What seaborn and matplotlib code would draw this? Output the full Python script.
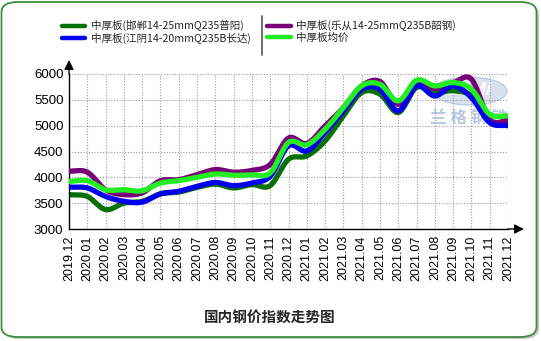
import numpy as np
import pandas as pd
import matplotlib
matplotlib.use("Agg")
import matplotlib.pyplot as plt
import seaborn as sns
from matplotlib.patches import FancyBboxPatch, Ellipse
from matplotlib.lines import Line2D

months = ["2019.12", "2020.01", "2020.02", "2020.03", "2020.04", "2020.05", "2020.06",
          "2020.07", "2020.08", "2020.09", "2020.10", "2020.11", "2020.12", "2021.01",
          "2021.02", "2021.03", "2021.04", "2021.05", "2021.06", "2021.07", "2021.08",
          "2021.09", "2021.10", "2021.11", "2021.12"]

handan = [3665, 3630, 3375, 3500, 3535, 3680, 3715, 3805, 3870, 3795, 3860, 3840,
          4350, 4415, 4705, 5190, 5640, 5610, 5255, 5740, 5640, 5675, 5575, 5090, 5060]
jiangyin = [3810, 3795, 3630, 3535, 3520, 3680, 3730, 3825, 3900, 3840, 3890, 4020,
            4610, 4510, 4870, 5285, 5705, 5705, 5285, 5770, 5575, 5770, 5545, 5060, 5000]
lecong = [4120, 4100, 3760, 3665, 3700, 3935, 3955, 4050, 4150, 4100, 4135, 4250,
          4760, 4655, 4995, 5350, 5770, 5855, 5415, 5830, 5720, 5830, 5900, 5120, 5100]
average = [3920, 3935, 3760, 3760, 3740, 3890, 3935, 4000, 4065, 4040, 4050, 4085,
           4675, 4630, 4930, 5350, 5770, 5800, 5480, 5880, 5770, 5835, 5705, 5220, 5190]

series_names = ["中厚板(邯郸14-25mmQ235普阳)", "中厚板(江阴14-20mmQ235B长达)",
                "中厚板(乐从14-25mmQ235B韶钢)", "中厚板均价"]
series_vals = [handan, jiangyin, lecong, average]
colors = ["#087008", "#0000ee", "#780078", "#22ee22"]
draw_order = [0, 2, 1, 3]

cjk = ["Noto Sans CJK SC", "DejaVu Sans"]


def smooth(y, n=20):
    y = np.asarray(y, float)
    p = np.concatenate([[2 * y[0] - y[1]], y, [2 * y[-1] - y[-2]]])
    xs, ys = [], []
    for i in range(len(y) - 1):
        p0, p1, p2, p3 = p[i], p[i + 1], p[i + 2], p[i + 3]
        t = np.linspace(0, 1, n, endpoint=False)
        v = 0.5 * ((2 * p1) + (-p0 + p2) * t + (2 * p0 - 5 * p1 + 4 * p2 - p3) * t ** 2
                   + (-p0 + 3 * p1 - 3 * p2 + p3) * t ** 3)
        xs.append(i + t)
        ys.append(v)
    xs.append([len(y) - 1])
    ys.append([y[-1]])
    return np.concatenate(xs), np.concatenate(ys)


sns.set_style("white")
plt.rcParams["font.family"] = ["Liberation Sans", "DejaVu Sans"]

W, H = 541, 341
fig = plt.figure(figsize=(W / 100, H / 100), dpi=100)
fig.patch.set_facecolor("white")

# rounded frame
shadow = FancyBboxPatch((4 / W, 2 / H), (W - 6) / W, (H - 6) / H,
                        boxstyle="round,pad=0,rounding_size=0.03",
                        transform=fig.transFigure, facecolor="#c8c8c8", edgecolor="none", zorder=-10)
frame = FancyBboxPatch((1.5 / W, 4 / H), (W - 6) / W, (H - 6) / H,
                       boxstyle="round,pad=0,rounding_size=0.03",
                       transform=fig.transFigure, facecolor="white", edgecolor="#3f8f3f",
                       linewidth=1.3, zorder=-9)
fig.patches.extend([shadow, frame])

L, R, T, B = 69, 508, 74, 229
ax = fig.add_axes([L / W, 1 - B / H, (R - L) / W, (B - T) / H])
ax.set_facecolor("none")

# watermark
ax.add_patch(Ellipse((21.9, 5670), 4.1, 540, facecolor="#c9d5e8", edgecolor="#b0c0da",
                     alpha=0.7, zorder=0.5, clip_on=False))
ax.text(21.9, 5680, "LGMi", color="white", fontsize=13, fontweight="bold", style="italic",
        ha="center", va="center", alpha=0.9, zorder=0.6)
ax.text(21.85, 5150, "兰 格 钢 铁", family=cjk, color="#a9bcd8", fontsize=12, fontweight="bold",
        ha="center", va="center", alpha=0.8, zorder=0.6)

for k in draw_order:
    xs, ys = smooth(series_vals[k])
    df = pd.DataFrame({"x": xs, "y": ys})
    sns.lineplot(data=df, x="x", y="y", ax=ax, color=colors[k], linewidth=3.8,
                 sort=False, estimator=None, zorder=2 + draw_order.index(k))

ax.set_xlim(0, len(months) - 1)
ax.set_ylim(3000, 6000)
ax.set_xticks(range(len(months)))
ax.set_xticklabels(months, rotation=90, fontsize=9)
ax.set_yticks([3000, 3500, 4000, 4500, 5000, 5500, 6000])
ax.set_yticklabels(["3000", "3500", "4000", "4500", "5000", "5500", "6000"], fontsize=9.5)
ax.set_xlabel("")
ax.set_ylabel("")
ax.grid(True, linestyle=(0, (1, 1.5)), color="#9a9a9a", linewidth=0.8)
ax.set_axisbelow(True)
for s in ["top", "right"]:
    ax.spines[s].set_visible(False)
for s in ["left", "bottom"]:
    ax.spines[s].set_color("black")
    ax.spines[s].set_linewidth(1.0)
ax.tick_params(axis="x", direction="inout", length=5, width=0.8, pad=2, colors="black")
ax.tick_params(axis="y", direction="out", length=3, width=0.8, pad=1, colors="black")

# axis arrows
ax.annotate("", xy=(524, H - B), xytext=(R, H - B), xycoords="figure pixels",
            textcoords="figure pixels",
            arrowprops=dict(arrowstyle="-|>", color="black", lw=1.0, mutation_scale=14,
                            shrinkA=0, shrinkB=0))
ax.annotate("", xy=(L, H - 60), xytext=(L, H - T), xycoords="figure pixels",
            textcoords="figure pixels",
            arrowprops=dict(arrowstyle="-|>", color="black", lw=1.0, mutation_scale=14,
                            shrinkA=0, shrinkB=0))

# legend
handles = [Line2D([0], [0], color=colors[k], lw=3.2) for k in range(4)]
leg = fig.legend(handles, series_names, ncol=2, loc="upper left",
                 bbox_to_anchor=(58 / W, 1 - 16 / H), frameon=False,
                 prop={"family": cjk, "size": 7.6}, handlelength=2.2, handletextpad=0.5,
                 columnspacing=1.6, labelspacing=0.15, borderaxespad=0)
fig.add_artist(Line2D([262 / W, 262 / W], [1 - 16 / H, 1 - 55 / H], color="#555555",
                      lw=1.2, transform=fig.transFigure))

fig.text(270 / W, 1 - 317 / H, "国内钢价指数走势图", family=cjk, fontsize=10.5,
         fontweight="bold", ha="center", va="center")

fig.savefig("out.png", dpi=100)
